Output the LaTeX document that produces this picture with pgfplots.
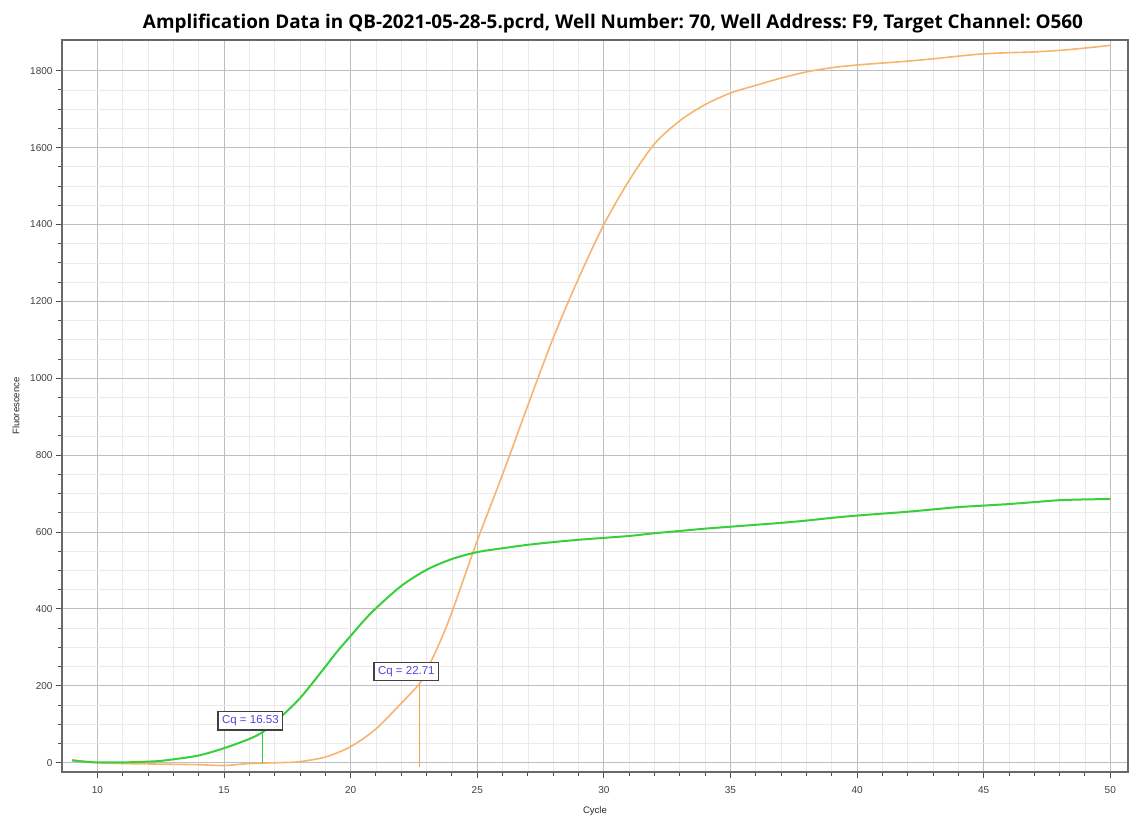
\documentclass[border=0pt]{standalone}
\usepackage{pgfplots}
\pgfplotsset{compat=1.18}
\usepackage{fontspec}
\setmainfont{Liberation Sans}
\newfontfamily\titlefont{Open Sans}
\definecolor{cgreen}{RGB}{55,208,60}
\definecolor{corange}{RGB}{246,180,112}
\definecolor{cqorange}{RGB}{240,160,75}
\definecolor{cqblue}{RGB}{80,70,220}
\definecolor{majgrid}{RGB}{190,190,190}
\definecolor{mingrid}{RGB}{234,234,234}
\definecolor{axframe}{RGB}{105,105,105}
\frenchspacing
\begin{document}
\begin{tikzpicture}
\begin{axis}[
  scale only axis, width=1066pt, height=732pt,
  xmin=8.6, xmax=50.7, ymin=-24, ymax=1880,
  xtick={10,15,...,50}, minor x tick num=4,
  ytick={0,200,...,1800}, minor y tick num=3,
  grid=both,
  major grid style={majgrid, line width=1pt},
  minor grid style={mingrid, line width=0.8pt},
  axis line style={axframe, line width=2pt},
  tick pos=left, tick align=outside,
  major tick length=6pt, minor tick length=4pt,
  tick style={black!70, line width=1pt},
  ticklabel style={font=\fontsize{10}{12}\selectfont, text=black!75},
  xticklabel style={yshift=-5pt},
  /pgf/number format/assume math mode=true,
  /pgf/number format/1000 sep={},
  xlabel={Cycle}, ylabel={Fluorescence},
  xlabel style={yshift=-6pt},
  ylabel style={yshift=4pt},
  label style={font=\fontsize{9.5}{11}\selectfont, text=black!85},
  title={\titlefont\bfseries Amplification Data in QB-2021-05-28-5.pcrd, Well Number: 70, Well Address: F9, Target Channel: O560},
  title style={font=\fontsize{18.9}{21}\selectfont, yshift=-3pt, xshift=18pt},
  clip=false,
]
\addplot[corange, line width=1.6pt, smooth] coordinates {
(9,8) (9.5,3) (10,0) (11,-2) (12,-3) (13,-4) (14,-5) (15,-7) (16,-2) (17,0) (17.5,1) (18,3) (19,15) (20,42) (21,88) (22,155) (22.71,205) (23,240) (23.5,310) (24,392) (25,578) (26,750) (27,930) (28,1105) (29,1260) (30,1400) (31,1515) (32,1610) (33,1670) (34,1712) (35,1742) (36,1762) (37,1781) (38,1797) (39,1808) (40,1815) (41,1820) (42,1825) (43,1831) (44,1838) (45,1844) (46,1847) (47,1849) (48,1853) (49,1859) (50,1866)
};
\addplot[cgreen, line width=2pt, smooth] coordinates {
(9,6) (9.5,3) (10,1) (11,1) (12,3) (12.5,5) (13,9) (14,19) (15,38) (16,62) (16.53,80) (17,105) (17.5,135) (18,168) (18.5,208) (19,250) (19.5,292) (20,330) (20.5,368) (21,402) (22,460) (23,502) (24,530) (25,548) (26,558) (27,567) (28,574) (29,580) (30,585) (31,590) (32,597) (33,603) (34,609) (35,614) (36,619) (37,624) (38,630) (39,637) (40,643) (41,648) (42,653) (43,659) (44,665) (45,669) (46,673) (47,678) (48,683) (49,685) (50,686)
};
\addplot[cgreen, line width=1pt] coordinates {(16.53,0) (16.53,80)};
\addplot[cqorange, line width=1pt] coordinates {(22.71,-10) (22.71,205)};
\node[draw=black!75, line width=1.2pt, fill=white, text=cqblue, inner xsep=4pt, inner ysep=4pt,
  font=\fontsize{11.5}{12}\selectfont] at (axis cs:16.04,109) {Cq = 16.53};
\node[draw=black!75, line width=1.2pt, fill=white, text=cqblue, inner xsep=4pt, inner ysep=4pt,
  font=\fontsize{11.5}{12}\selectfont] at (axis cs:22.2,237) {Cq = 22.71};
\end{axis}
\path ([xshift=-62pt,yshift=-44pt]current axis.south west) rectangle ([xshift=14pt,yshift=40pt]current axis.north east);
\end{tikzpicture}
\end{document}
